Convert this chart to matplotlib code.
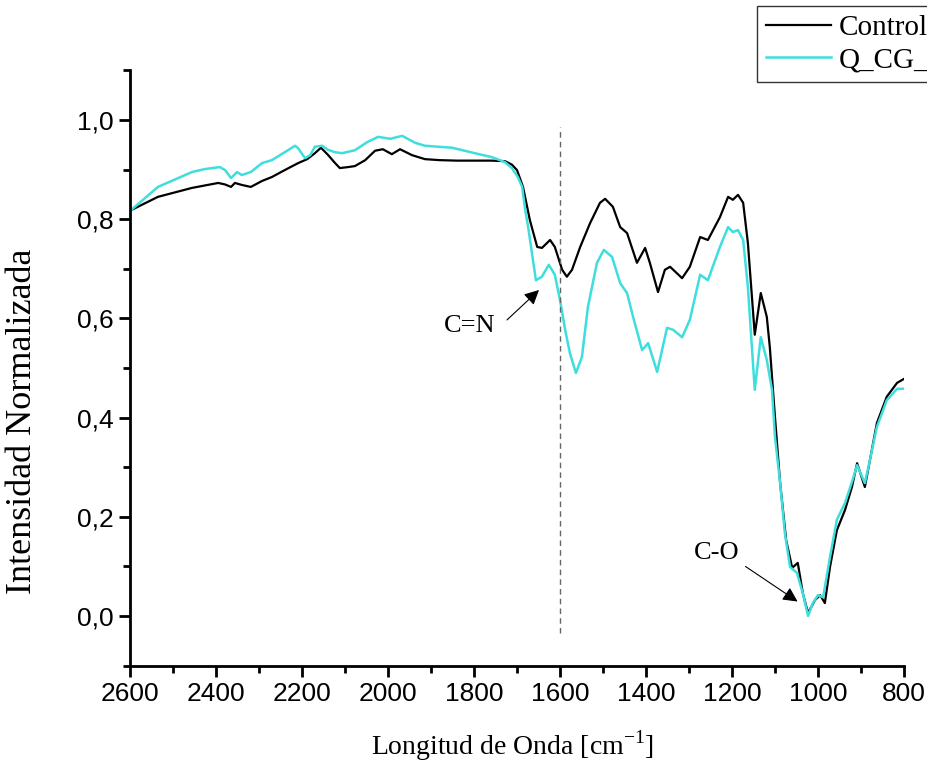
import matplotlib
matplotlib.use("Agg")
import matplotlib.pyplot as plt
from matplotlib.ticker import MultipleLocator, FuncFormatter

# Control spectrum (wavenumber cm-1, normalized intensity)
control_wn = [2598, 2535, 2456, 2395, 2379, 2365, 2356, 2340, 2319, 2293, 2270, 2240,
              2209, 2188, 2170, 2156, 2140, 2123, 2112, 2093, 2077, 2053, 2030, 2012,
              1991, 1972, 1944, 1914, 1880, 1840, 1800, 1760, 1728, 1712, 1700, 1686,
              1670, 1653, 1642, 1623, 1612, 1595, 1584, 1572, 1553, 1530, 1507, 1495,
              1477, 1460, 1444, 1421, 1402, 1391, 1372, 1356, 1344, 1316, 1298, 1274,
              1256, 1228, 1209, 1198, 1186, 1174, 1163, 1147, 1133, 1119, 1112, 1100,
              1088, 1074, 1060, 1047, 1035, 1023, 1007, 995, 984, 972, 956, 937,
              921, 909, 891, 879, 863, 840, 816, 800]
control_int = [0.818, 0.845, 0.863, 0.873, 0.870, 0.865, 0.873, 0.869, 0.865, 0.877, 0.885, 0.899,
               0.913, 0.921, 0.933, 0.944, 0.930, 0.913, 0.903, 0.905, 0.907, 0.919, 0.938, 0.941,
               0.931, 0.941, 0.929, 0.921, 0.919, 0.918, 0.918, 0.918, 0.917, 0.910, 0.899, 0.865,
               0.798, 0.744, 0.742, 0.758, 0.744, 0.698, 0.684, 0.698, 0.744, 0.792, 0.833, 0.841,
               0.825, 0.784, 0.772, 0.712, 0.742, 0.712, 0.653, 0.698, 0.704, 0.681, 0.704, 0.764,
               0.758, 0.804, 0.845, 0.839, 0.849, 0.833, 0.752, 0.567, 0.651, 0.603, 0.542, 0.401,
               0.268, 0.153, 0.097, 0.107, 0.045, 0.006, 0.032, 0.042, 0.026, 0.099, 0.173, 0.214,
               0.260, 0.308, 0.260, 0.315, 0.389, 0.442, 0.470, 0.478]

# Q_CG spectrum
qcg_wn = [2598, 2535, 2456, 2426, 2391, 2379, 2365, 2351, 2340, 2319, 2293, 2270,
          2240, 2216, 2209, 2193, 2181, 2170, 2153, 2140, 2123, 2107, 2077, 2047,
          2023, 1995, 1967, 1937, 1914, 1851, 1798, 1758, 1728, 1712, 1698, 1688,
          1681, 1674, 1656, 1642, 1626, 1612, 1600, 1588, 1577, 1563, 1549, 1535,
          1514, 1498, 1479, 1460, 1444, 1430, 1409, 1395, 1374, 1351, 1337, 1316,
          1298, 1274, 1256, 1228, 1209, 1198, 1186, 1174, 1163, 1147, 1133, 1119,
          1107, 1100, 1088, 1077, 1065, 1049, 1035, 1023, 1012, 1000, 988, 972,
          956, 937, 921, 909, 891, 879, 863, 840, 816, 800]
qcg_int = [0.818, 0.865, 0.895, 0.901, 0.905, 0.899, 0.883, 0.895, 0.889, 0.895, 0.913, 0.919,
           0.935, 0.948, 0.943, 0.923, 0.929, 0.946, 0.948, 0.940, 0.935, 0.933, 0.939, 0.956,
           0.966, 0.962, 0.968, 0.954, 0.948, 0.944, 0.933, 0.925, 0.915, 0.903, 0.885, 0.865,
           0.819, 0.784, 0.677, 0.684, 0.708, 0.688, 0.637, 0.577, 0.530, 0.490, 0.522, 0.623,
           0.712, 0.738, 0.724, 0.671, 0.651, 0.603, 0.536, 0.550, 0.492, 0.581, 0.577, 0.562,
           0.597, 0.688, 0.677, 0.744, 0.784, 0.774, 0.778, 0.758, 0.663, 0.456, 0.562, 0.516,
           0.456, 0.361, 0.268, 0.167, 0.099, 0.087, 0.045, 0.000, 0.026, 0.042, 0.038, 0.119,
           0.194, 0.228, 0.270, 0.304, 0.268, 0.315, 0.381, 0.435, 0.458, 0.458]

serif = ['Liberation Serif', 'DejaVu Serif']
sans = ['Liberation Sans', 'DejaVu Sans']

fig = plt.figure(figsize=(9.28, 7.69), dpi=100)
ax = fig.add_axes([0.1401, 0.1345, 0.834, 0.774])

ax.plot(control_wn, control_int, color='black', lw=1.6, label='Control')
ax.plot(qcg_wn, qcg_int, color='#3fdede', lw=1.8, label='Q_CG_')

# marker line at 1600 cm-1
ax.plot([1600, 1600], [-0.034, 0.985], color='#666666', lw=1.0, ls=(0, (4, 3)))

ax.text(1809, 0.585, 'C=N', family=serif, fontsize=19, ha='center', va='center')
ax.annotate('', xy=(1644, 0.661), xytext=(1728, 0.593),
            arrowprops=dict(arrowstyle='-|>', color='black', lw=0.8, mutation_scale=22))
ax.text(1235, 0.127, 'C-O', family=serif, fontsize=19, ha='center', va='center')
ax.annotate('', xy=(1042, 0.026), xytext=(1174, 0.103),
            arrowprops=dict(arrowstyle='-|>', color='black', lw=0.8, mutation_scale=22))

ax.set_xlim(2600, 800)
ax.set_ylim(-0.1, 1.1)
ax.xaxis.set_major_locator(MultipleLocator(200))
ax.xaxis.set_minor_locator(MultipleLocator(100))
ax.yaxis.set_major_locator(MultipleLocator(0.2))
ax.yaxis.set_minor_locator(MultipleLocator(0.1))
ax.yaxis.set_major_formatter(FuncFormatter(lambda v, p: ('%.1f' % v).replace('.', ',').replace('-0,0', '0,0')))

for s in ['top', 'right']:
    ax.spines[s].set_visible(False)
for s in ['left', 'bottom']:
    ax.spines[s].set_linewidth(2)
ax.tick_params(which='major', direction='out', length=8, width=2, pad=4)
ax.tick_params(which='minor', direction='out', length=5, width=2)
for lab in ax.get_xticklabels() + ax.get_yticklabels():
    lab.set_family(sans)
    lab.set_fontsize(19)

ax.set_xlabel(r'Longitud de Onda [cm$^{\mathregular{-1}}$]', family=serif, fontsize=20)
ax.set_ylabel('Intensidad Normalizada', family=serif, fontsize=26)
ax.xaxis.set_label_coords(0.494, -0.105)
ax.yaxis.set_label_coords(-0.118, 0.411)

leg = fig.legend(loc='upper left', bbox_to_anchor=(757 / 928, 1 - 6 / 769),
                 prop={'family': serif, 'size': 21}, frameon=True, fancybox=False,
                 edgecolor='black', borderpad=0.3, handlelength=2.25,
                 handletextpad=0.25, labelspacing=0.2, borderaxespad=0)
leg.get_frame().set_linewidth(1.0)

fig.savefig('out.png', dpi=100)
